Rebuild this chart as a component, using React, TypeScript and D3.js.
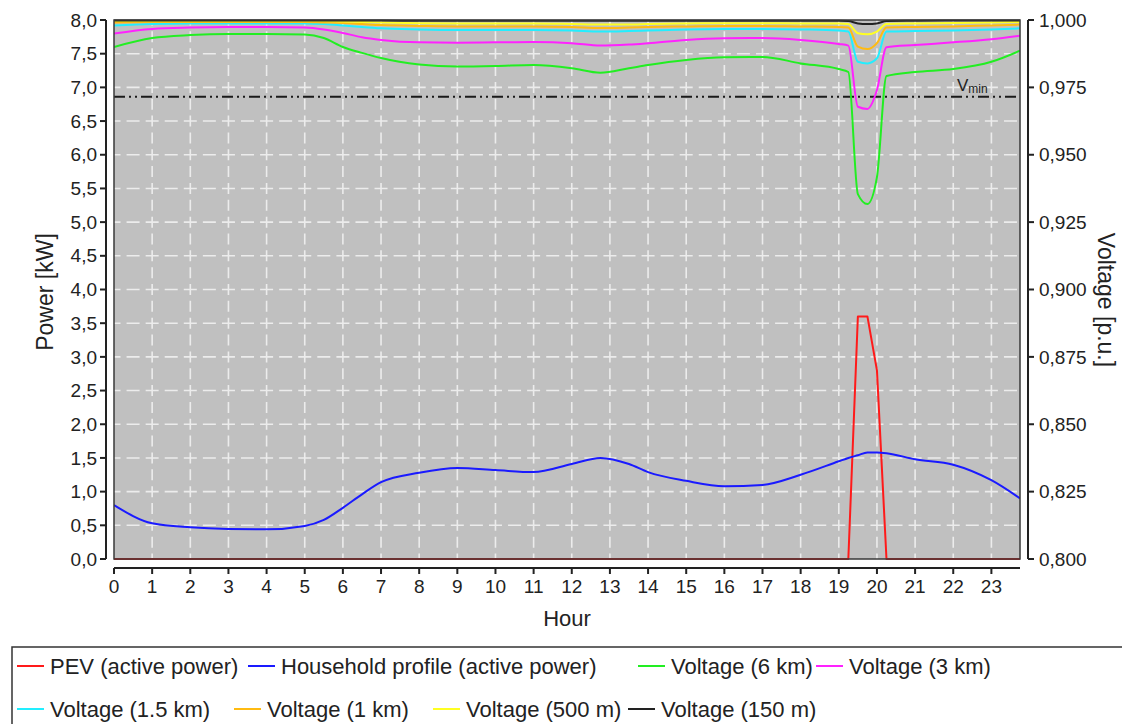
import React from "react";
import * as d3 from "d3";

const hours = [0, 1, 2, 3, 4, 5, 5.5, 6, 6.5, 7, 8, 9, 10, 11, 12, 12.75, 13.5, 14, 15, 16, 17, 18, 19, 19.25, 19.5, 19.75, 20, 20.25, 21, 22, 23, 23.75];

const pevPower = [0, 0, 0, 0, 0, 0, 0, 0, 0, 0, 0, 0, 0, 0, 0, 0, 0, 0, 0, 0, 0, 0, 0, 0, 3.6, 3.6, 2.8, 0, 0, 0, 0, 0];
const householdPower = [0.8, 0.53, 0.47, 0.445, 0.44, 0.49, 0.58, 0.76, 0.96, 1.14, 1.28, 1.35, 1.32, 1.29, 1.41, 1.5, 1.41, 1.29, 1.16, 1.08, 1.1, 1.25, 1.45, 1.5, 1.54, 1.58, 1.58, 1.57, 1.48, 1.4, 1.17, 0.9];

const v6km = [0.99, 0.9933, 0.9944, 0.9948, 0.9948, 0.9946, 0.9933, 0.99, 0.9878, 0.9859, 0.9835, 0.9827, 0.9829, 0.9833, 0.9821, 0.9804, 0.9821, 0.9833, 0.9852, 0.9862, 0.9863, 0.9839, 0.9818, 0.9807, 0.9354, 0.9317, 0.9417, 0.9792, 0.9807, 0.9818, 0.9845, 0.9886];
const v3km = [0.995, 0.9967, 0.9972, 0.9974, 0.9974, 0.9972, 0.9965, 0.9952, 0.9936, 0.9926, 0.9917, 0.9916, 0.9917, 0.9918, 0.9914, 0.9905, 0.9909, 0.9914, 0.9926, 0.9932, 0.9933, 0.9926, 0.9911, 0.9905, 0.9678, 0.967, 0.974, 0.9899, 0.9907, 0.9917, 0.9929, 0.9942];
const v1500m = [0.998, 0.9985, 0.9987, 0.9987, 0.9987, 0.9987, 0.9985, 0.998, 0.9974, 0.9969, 0.9965, 0.9963, 0.9963, 0.9963, 0.9961, 0.9957, 0.9959, 0.9961, 0.9965, 0.9967, 0.9967, 0.9965, 0.9961, 0.9957, 0.9845, 0.9839, 0.9858, 0.9957, 0.9959, 0.9961, 0.9965, 0.9969];
const v1km = [0.9991, 0.9993, 0.9993, 0.9993, 0.9993, 0.9993, 0.9991, 0.9989, 0.9985, 0.9981, 0.9978, 0.9976, 0.9976, 0.9976, 0.9974, 0.997, 0.9972, 0.9974, 0.9976, 0.9978, 0.9978, 0.9976, 0.9974, 0.9972, 0.9901, 0.9892, 0.9914, 0.9972, 0.9974, 0.9976, 0.998, 0.9983];
const v500m = [0.9996, 0.9996, 0.9996, 0.9996, 0.9996, 0.9996, 0.9996, 0.9994, 0.9993, 0.9991, 0.9988, 0.9987, 0.9987, 0.9987, 0.9985, 0.9983, 0.9983, 0.9985, 0.9987, 0.9988, 0.9988, 0.9987, 0.9987, 0.9985, 0.9951, 0.9947, 0.9957, 0.9985, 0.9987, 0.9989, 0.9991, 0.9993];
const v150m = [0.9998, 0.9998, 0.9998, 0.9998, 0.9998, 0.9998, 0.9998, 0.9998, 0.9998, 0.9998, 0.9997, 0.9997, 0.9997, 0.9997, 0.9997, 0.9997, 0.9997, 0.9997, 0.9997, 0.9997, 0.9997, 0.9997, 0.9997, 0.9996, 0.9987, 0.9985, 0.9987, 0.9996, 0.9997, 0.9998, 0.9998, 0.9998];

const vMin = 0.9715;

const powerTicks = d3.range(0, 8.001, 0.5);
const voltageTicks = d3.range(0.8, 1.0001, 0.025);
const hourTicks = d3.range(0, 24, 1);

const powerSeries = [
  { name: "PEV (active power)", color: "#ff1a1a", values: pevPower, curve: d3.curveLinear },
  { name: "Household profile (active power)", color: "#1a1aff", values: householdPower, curve: d3.curveMonotoneX },
];
const voltageSeries = [
  { name: "Voltage (6 km)", color: "#22ee22", values: v6km },
  { name: "Voltage (3 km)", color: "#ff22ff", values: v3km },
  { name: "Voltage (1.5 km)", color: "#22eeff", values: v1500m },
  { name: "Voltage (1 km)", color: "#ffbb11", values: v1km },
  { name: "Voltage (500 m)", color: "#ffff22", values: v500m },
  { name: "Voltage (150 m)", color: "#222222", values: v150m },
];

const legendRows = [
  [
    { name: "PEV (active power)", color: "#ff1a1a", x: 17 },
    { name: "Household profile (active power)", color: "#1a1aff", x: 248 },
    { name: "Voltage (6 km)", color: "#22ee22", x: 638 },
    { name: "Voltage (3 km)", color: "#ff22ff", x: 816 },
  ],
  [
    { name: "Voltage (1.5 km)", color: "#22eeff", x: 17 },
    { name: "Voltage (1 km)", color: "#ffbb11", x: 234 },
    { name: "Voltage (500 m)", color: "#ffff22", x: 433 },
    { name: "Voltage (150 m)", color: "#222222", x: 628 },
  ],
];

const W = 1122;
const H = 724;
const L = 114, R = 1020, T = 20, B = 559;
const FONT = "'Liberation Sans', Arial, sans-serif";

export default function App() {
  const x = d3.scaleLinear().domain([0, 23.75]).range([L, R]);
  const yP = d3.scaleLinear().domain([0, 8]).range([B, T]);
  const yV = d3.scaleLinear().domain([0.8, 1.0]).range([B, T]);
  const fmt1 = (v: number) => d3.format(".1f")(v).replace(".", ",");
  const fmt3 = (v: number) => d3.format(".3f")(v).replace(".", ",");

  const leftAxisX = 106;
  const rightAxisX = 1028;
  const bottomAxisY = 568;

  const hStep = (x(1) - x(0)) / 2;
  const vStep = (yP(0) - yP(0.5)) / 2;
  const hDash = 13;
  const vDash = 11;

  return (
    <svg width={W} height={H} style={{ position: "absolute", left: 0, top: 0, background: "#fff" }} fontFamily={FONT}>
      <defs>
        <clipPath id="plotclip">
          <rect x={L} y={T - 2} width={R - L} height={B - T + 4} />
        </clipPath>
      </defs>
      <rect x={L} y={T} width={R - L} height={B - T} fill="#c0c0c0" />
      <g stroke="#ececec" strokeWidth={1.6}>
        {hourTicks.filter((h) => h > 0).map((h) => (
          <line key={"gv" + h} x1={x(h)} x2={x(h)} y1={B} y2={T}
            strokeDasharray={`${vDash} ${vStep - vDash}`} strokeDashoffset={vDash / 2} />
        ))}
        {powerTicks.filter((p) => p > 0 && p < 8).map((p) => (
          <line key={"gh" + p} x1={L} x2={R} y1={yP(p)} y2={yP(p)}
            strokeDasharray={`${hDash} ${hStep - hDash}`} strokeDashoffset={hDash / 2} />
        ))}
      </g>
      <line x1={L} x2={R} y1={yV(vMin)} y2={yV(vMin)} stroke="#1a1a1a" strokeWidth={2} strokeDasharray="11 4 2 4 2 4" />
      <text x={957} y={91} fontSize={17} fill="#222">
        V<tspan fontSize={12} dy={2}>min</tspan>
      </text>
      <g clipPath="url(#plotclip)" fill="none" strokeWidth={2} strokeLinejoin="round">
        {powerSeries.map((s) => {
          const line = d3.line<number>().x((_, i) => x(hours[i])).y((d) => yP(d)).curve(s.curve);
          return <path key={s.name} d={line(s.values) || ""} stroke={s.color} />;
        })}
        {voltageSeries.map((s) => {
          const line = d3.line<number>().x((_, i) => x(hours[i])).y((d) => yV(d)).curve(d3.curveMonotoneX);
          return <path key={s.name} d={line(s.values) || ""} stroke={s.color} />;
        })}
      </g>
      <rect x={L} y={T} width={R - L} height={B - T} fill="none" stroke="#3a3a3a" strokeWidth={1.5} />
      <g>
        <line x1={leftAxisX} x2={leftAxisX} y1={yP(8)} y2={yP(0)} stroke="#222" strokeWidth={2} />
        {powerTicks.map((p) => (
          <g key={"lt" + p}>
            <line x1={leftAxisX - 6} x2={leftAxisX} y1={yP(p)} y2={yP(p)} stroke="#222" strokeWidth={2} />
            <text x={97} y={yP(p)} dy="0.35em" textAnchor="end" fontSize={19} fill="#222">{fmt1(p)}</text>
          </g>
        ))}
        <text transform={`translate(${53},${292}) rotate(-90)`} textAnchor="middle" fontSize={23} fill="#222">Power [kW]</text>
      </g>
      <g>
        <line x1={rightAxisX} x2={rightAxisX} y1={yV(1)} y2={yV(0.8)} stroke="#222" strokeWidth={2} />
        {voltageTicks.map((v) => (
          <g key={"rt" + v}>
            <line x1={rightAxisX} x2={rightAxisX + 6} y1={yV(v)} y2={yV(v)} stroke="#222" strokeWidth={2} />
            <text x={1039} y={yV(v)} dy="0.35em" textAnchor="start" fontSize={19} fill="#222">{fmt3(v)}</text>
          </g>
        ))}
        <text transform={`translate(${1098},${300}) rotate(90)`} textAnchor="middle" fontSize={23} fill="#222">Voltage [p.u.]</text>
      </g>
      <g>
        <line x1={L} x2={R} y1={bottomAxisY} y2={bottomAxisY} stroke="#222" strokeWidth={2} />
        {hourTicks.map((h) => (
          <g key={"bt" + h}>
            <line x1={x(h)} x2={x(h)} y1={bottomAxisY} y2={bottomAxisY + 6} stroke="#222" strokeWidth={2} />
            <text x={x(h)} y={593} textAnchor="middle" fontSize={19} fill="#222">{h}</text>
          </g>
        ))}
        <text x={567} y={626} textAnchor="middle" fontSize={22} fill="#222">Hour</text>
      </g>
      <rect x={12} y={647} width={1130} height={100} fill="#fff" stroke="#333" strokeWidth={1.5} />
      {legendRows.map((row, ri) => (
        <g key={"lr" + ri}>
          {row.map((it) => {
            const cy = ri === 0 ? 666 : 709;
            return (
              <g key={it.name}>
                <line x1={it.x} x2={it.x + 27} y1={cy} y2={cy} stroke={it.color} strokeWidth={2} />
                <text x={it.x + 33} y={cy} dy="0.35em" fontSize={22} fill="#222">{it.name}</text>
              </g>
            );
          })}
        </g>
      ))}
    </svg>
  );
}
